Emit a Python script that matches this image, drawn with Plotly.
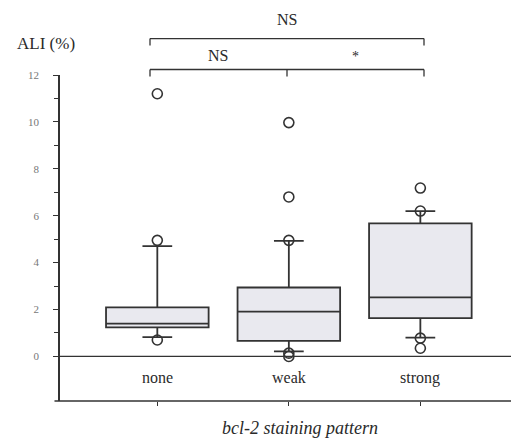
import plotly.graph_objects as go

categories = ["none", "weak", "strong"]
q1 = [1.24, 0.66, 1.63]
median = [1.40, 1.91, 2.52]
q3 = [2.09, 2.94, 5.67]
lower_whisker = [0.82, 0.22, 0.80]
upper_whisker = [4.70, 4.93, 6.20]
outliers = {
    "none": [0.70, 4.95, 11.20],
    "weak": [4.95, 6.80, 9.97, 0.14, 0.0],
    "strong": [6.20, 7.18, 0.78, 0.35],
}
y_tick_vals = [0, 2, 4, 6, 8, 10, 12]
y_minor_vals = [1, 3, 5, 7, 9, 11]

xpos = [0, 1, 2]
line_col = "#333333"
text_col = "#2a2a2a"
serif = "Liberation Serif, Times New Roman, serif"

fig = go.Figure()
fig.add_trace(go.Box(
    x=xpos, q1=q1, median=median, q3=q3,
    lowerfence=lower_whisker, upperfence=upper_whisker,
    fillcolor="#e9e9ef", line=dict(color=line_col, width=1.8),
    width=0.78, whiskerwidth=0.29, boxpoints=False, showlegend=False,
    hoverinfo="skip",
))
ox, oy = [], []
for i, c in enumerate(categories):
    for v in outliers[c]:
        ox.append(xpos[i]); oy.append(v)
fig.add_trace(go.Scatter(
    x=ox, y=oy, mode="markers", showlegend=False,
    marker=dict(symbol="circle-open", size=10, color=line_col, line=dict(width=1.6)),
))

# category labels inside plot area
for i, c in enumerate(categories):
    fig.add_annotation(x=xpos[i], y=-0.9, text=c, showarrow=False,
                       xanchor="center", yanchor="middle",
                       font=dict(family=serif, size=16, color=text_col))

# zero line
fig.add_shape(type="line", xref="paper", yref="y", x0=0, x1=1, y0=0, y1=0,
              line=dict(color=line_col, width=1.2))
# bottom axis line
fig.add_shape(type="line", xref="paper", yref="paper", x0=-0.012, x1=0.992, y0=0, y1=0,
              line=dict(color=line_col, width=1.6))

# page pixel -> paper coords (plot area spans x 60..519, y 74.5..401 on the page)
def px_to_paper_x(px):
    return (px - 60) / (519 - 60)

def py_to_paper_y(py):
    return (401 - py) / (401 - 74.5)

xl, xm, xr = 150, 287, 424
for (yb, mid) in [(38, False), (69, True)]:
    y0 = py_to_paper_y(yb)
    y1 = py_to_paper_y(yb + 7)
    fig.add_shape(type="line", xref="paper", yref="paper",
                  x0=px_to_paper_x(xl), x1=px_to_paper_x(xr), y0=y0, y1=y0,
                  line=dict(color=line_col, width=1.3))
    for xx in ([xl, xr] + ([xm] if mid else [])):
        fig.add_shape(type="line", xref="paper", yref="paper",
                      x0=px_to_paper_x(xx), x1=px_to_paper_x(xx), y0=y0, y1=y1,
                      line=dict(color=line_col, width=1.3))

def label(px, py, text, size, xanchor="center"):
    fig.add_annotation(xref="paper", yref="paper", x=px_to_paper_x(px), y=py_to_paper_y(py),
                       xanchor=xanchor, yanchor="middle", text=text, showarrow=False,
                       font=dict(family=serif, size=size, color=text_col))

label(287, 19, "NS", 16)
label(218, 55, "NS", 16)
label(355, 56, "*", 14)
label(15, 43, "ALI (%)", 17, xanchor="left")
label(300, 428, "<i>bcl-2 staining pattern</i>", 18)

fig.update_layout(
    width=511, height=430,
    margin=dict(l=52, r=0, t=66.5, b=37),
    paper_bgcolor="white", plot_bgcolor="white",
    xaxis=dict(range=[-0.74, 2.75], showgrid=False, zeroline=False, showline=False,
               tickmode="array", tickvals=xpos, ticktext=["", "", ""],
               ticks="outside", ticklen=4, tickcolor=line_col, tickwidth=1.3),
    yaxis=dict(range=[-1.9, 12], showgrid=False, zeroline=False, showline=True,
               linecolor=line_col, linewidth=1.6,
               tickmode="array", tickvals=y_tick_vals, ticktext=[str(v) for v in y_tick_vals],
               ticks="outside", ticklen=5, tickcolor=line_col, tickwidth=1.2,
               ticklabelstandoff=12,
               tickfont=dict(family=serif, size=11, color="#777777"),
               minor=dict(tickvals=y_minor_vals, ticks="outside", ticklen=4,
                          tickcolor=line_col, tickwidth=1)),
)

fig.write_html("out.html")
